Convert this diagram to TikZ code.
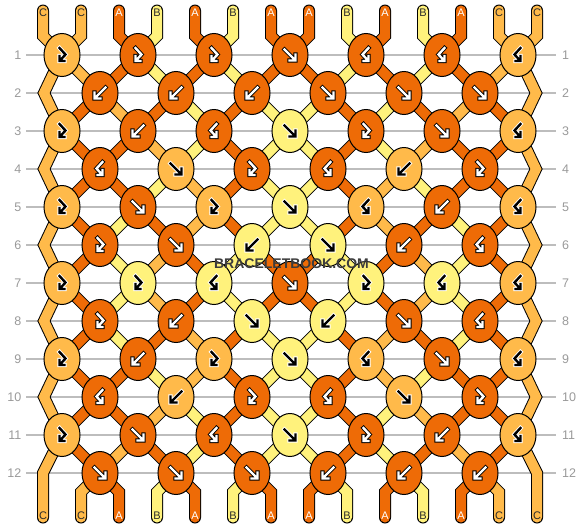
\documentclass[tikz,border=0pt]{standalone}
\usepackage{fontspec}
\setmainfont{Liberation Sans}
\usetikzlibrary{shapes.geometric}
\pgfdeclarelayer{gridlayer}
\pgfdeclarelayer{bandlayer}
\pgfsetlayers{gridlayer,bandlayer,main}
\definecolor{thA}{HTML}{EE6B06}
\definecolor{thB}{HTML}{FFF27C}
\definecolor{thC}{HTML}{FFBA4A}
\colorlet{arrinA}{white}\colorlet{arroutA}{black}
\colorlet{arrinB}{black}\colorlet{arroutB}{white}
\colorlet{arrinC}{black}\colorlet{arroutC}{white}
\definecolor{labA}{HTML}{FFFFFF}
\definecolor{labB}{HTML}{2A2A2A}
\definecolor{labC}{HTML}{2A2A2A}
\definecolor{gridgray}{HTML}{BDBDBD}
\definecolor{numgray}{HTML}{9A9A9A}
\definecolor{wmgray}{HTML}{3C3C3C}
\tikzset{
  bandout/.style={draw=black, line width=12pt, line cap=round, line join=miter},
  bandin/.style={line width=10pt, line cap=round, line join=miter},
  knotshape/.style={ellipse, draw=black, line width=1pt, minimum width=36pt, minimum height=43pt, inner sep=0pt},
  gridline/.style={draw=gridgray, line width=1.2pt},
  rownum/.style={text=numgray, font=\fontsize{12.5}{12.5}\selectfont, inner sep=0pt},
  threadlab/.style={font=\fontsize{11}{11}\selectfont, inner sep=0pt},
  arrowbase/.style={line width=0.9pt, double distance=2.4pt, line join=miter, line cap=rect},
  arrowline/.style={arrowbase},
  pics/arrf/.style={code={\draw[arrowline] (-5.5,-5.5)--(4.6,4.6) (5.5,-0.5)--(5.5,5.5)--(-0.5,5.5);}},
  pics/arrb/.style={code={\draw[arrowline] (5.5,-5.5)--(-4.6,4.6) (-5.5,-0.5)--(-5.5,5.5)--(0.5,5.5);}},
  pics/arrfb/.style={code={\draw[arrowline] (-2.5,-7)--(3.5,-0.5)--(-1.8,5.3) (-2.5,1)--(-2.5,6)--(2.5,6);}},
  pics/arrbf/.style={code={\draw[arrowline] (2.5,-7)--(-3.5,-0.5)--(1.8,5.3) (2.5,1)--(2.5,6)--(-2.5,6);}},
}
\begin{document}
\begin{tikzpicture}[x=1pt,y=-1pt]
\useasboundingbox (0,0) rectangle (582,528);

% background, grid lines
\begin{pgfonlayer}{gridlayer}
\fill[white] (0,0) rectangle (582,528);
\foreach \r in {1,...,12} {
  \draw[gridline] (26,{17+38*\r}) -- (556,{17+38*\r});
}
\end{pgfonlayer}
\foreach \r in {1,...,12} {
  \node[rownum, anchor=east] (ln-\r) at (21.5,{17+38*\r}) {\r};
  \node[rownum, anchor=west] (rn-\r) at (562,{17+38*\r}) {\r};
}

% knots
\foreach \r/\lst in {
  1/{fb/C,fb/A,fb/A,f/A,bf/A,bf/A,bf/C},
  2/{b/A,b/A,b/A,f/A,f/A,f/A},
  3/{fb/C,b/A,bf/A,f/B,fb/A,f/A,bf/C},
  4/{bf/A,f/C,fb/A,bf/A,b/C,fb/A},
  5/{fb/C,f/A,fb/C,f/B,bf/C,b/A,bf/C},
  6/{fb/A,f/A,b/B,f/B,b/A,bf/A},
  7/{fb/C,fb/B,bf/B,f/A,fb/B,bf/B,bf/C},
  8/{fb/A,b/A,f/B,b/B,f/A,bf/A},
  9/{fb/C,b/A,fb/C,f/B,bf/C,f/A,bf/C},
  10/{bf/A,b/C,fb/A,bf/A,f/C,fb/A},
  11/{fb/C,f/A,bf/A,f/B,fb/A,b/A,bf/C},
  12/{f/A,f/A,f/A,b/A,b/A,b/A}} {
  \foreach \t/\c [count=\k] in \lst {
    \pgfmathtruncatemacro\s{2*\k-mod(\r,2)}
    \node[knotshape, fill=th\c] (n-\r-\s) at ({24+38*\s},{17+38*\r}) {};
    \pic[arrowline/.style={arrowbase, draw=arrout\c, double=arrin\c}] at (n-\r-\s) {arr\t};
  }
}

% edge and end coordinates
\foreach \r in {2,4,6,8,10} {
  \coordinate (n-\r-0) at (44,{17+38*\r});
  \coordinate (n-\r-14) at (536,{17+38*\r});
}
\coordinate (n-12-0) at (43,473);
\coordinate (n-12-14) at (537,473);
\foreach \p in {1,...,14} {
  \coordinate (te-\p) at ({5+38*\p},10.5);
  \coordinate (t-\p) at ({5+38*\p},36);
  \coordinate (b-\p) at ({5+38*\p},492);
  \coordinate (be-\p) at ({5+38*\p},517.5);
}

\begin{pgfonlayer}{bandlayer}
% interior thread segments (state after row r)
\foreach \r/\lst in {
  1/{C,C,A,B,A,B,A,A,B,A,B,A,C,C},
  2/{C,A,C,A,B,A,B,B,A,B,A,C,A,C},
  3/{C,A,A,C,B,A,B,B,A,B,C,A,A,C},
  4/{C,A,A,B,C,A,B,B,A,C,B,A,A,C},
  5/{C,A,B,A,C,A,B,B,A,C,A,B,A,C},
  6/{C,A,B,C,A,B,A,A,B,A,C,B,A,C},
  7/{C,A,B,C,A,B,A,A,B,A,C,B,A,C},
  8/{C,A,B,A,C,A,B,B,A,C,A,B,A,C},
  9/{C,A,A,B,C,A,B,B,A,C,B,A,A,C},
  10/{C,A,A,C,B,A,B,B,A,B,C,A,A,C},
  11/{C,A,C,A,B,A,B,B,A,B,A,C,A,C}} {
  \pgfmathtruncatemacro\rr{\r+1}
  \foreach \c [count=\p] in \lst {
    \ifnum\p>1 \ifnum\p<14
      \pgfmathtruncatemacro\sa{\p-mod(\p+\r,2)}
      \pgfmathtruncatemacro\sb{\p-mod(\p+\rr,2)}
      \draw[bandout] (n-\r-\sa.center) -- (n-\rr-\sb.center);
      \draw[bandin, draw=th\c] (n-\r-\sa.center) -- (n-\rr-\sb.center);
    \fi\fi
  }
}
% top and bottom stubs
\foreach \c [count=\p] in {C,C,A,B,A,B,A,A,B,A,B,A,C,C} {
  \ifnum\p>1 \ifnum\p<14
    \pgfmathtruncatemacro\s{\p-mod(\p+1,2)}
    \draw[bandout] (te-\p) -- (t-\p) -- (n-1-\s.center);
    \draw[bandin, draw=th\c] (te-\p) -- (t-\p) -- (n-1-\s.center);
    \pgfmathtruncatemacro\s{\p-mod(\p,2)}
    \draw[bandout] (n-12-\s.center) -- (b-\p) -- (be-\p);
    \draw[bandin, draw=th\c] (n-12-\s.center) -- (b-\p) -- (be-\p);
  \fi\fi
}
% edge threads
\draw[bandout] (te-1) -- (t-1) -- (n-1-1.center) -- (n-2-0) -- (n-3-1.center) -- (n-4-0) -- (n-5-1.center) -- (n-6-0) -- (n-7-1.center) -- (n-8-0) -- (n-9-1.center) -- (n-10-0) -- (n-11-1.center) -- (n-12-0) -- (be-1);
\draw[bandin, draw=thC] (te-1) -- (t-1) -- (n-1-1.center) -- (n-2-0) -- (n-3-1.center) -- (n-4-0) -- (n-5-1.center) -- (n-6-0) -- (n-7-1.center) -- (n-8-0) -- (n-9-1.center) -- (n-10-0) -- (n-11-1.center) -- (n-12-0) -- (be-1);
\draw[bandout] (te-14) -- (t-14) -- (n-1-13.center) -- (n-2-14) -- (n-3-13.center) -- (n-4-14) -- (n-5-13.center) -- (n-6-14) -- (n-7-13.center) -- (n-8-14) -- (n-9-13.center) -- (n-10-14) -- (n-11-13.center) -- (n-12-14) -- (be-14);
\draw[bandin, draw=thC] (te-14) -- (t-14) -- (n-1-13.center) -- (n-2-14) -- (n-3-13.center) -- (n-4-14) -- (n-5-13.center) -- (n-6-14) -- (n-7-13.center) -- (n-8-14) -- (n-9-13.center) -- (n-10-14) -- (n-11-13.center) -- (n-12-14) -- (be-14);
\end{pgfonlayer}

% thread letters
\foreach \c [count=\p] in {C,C,A,B,A,B,A,A,B,A,B,A,C,C} {
  \node[threadlab, text=lab\c] (lt-\p) at ({5+38*\p},12.5) {\c};
  \node[threadlab, text=lab\c] (lb-\p) at ({5+38*\p},515.5) {\c};
}

% watermark
\node[font=\bfseries\fontsize{14}{14}\selectfont, text=wmgray, inner sep=0pt] (wm) at (291.5,263.3) {BRACELETBOOK.COM};
\end{tikzpicture}
\end{document}
